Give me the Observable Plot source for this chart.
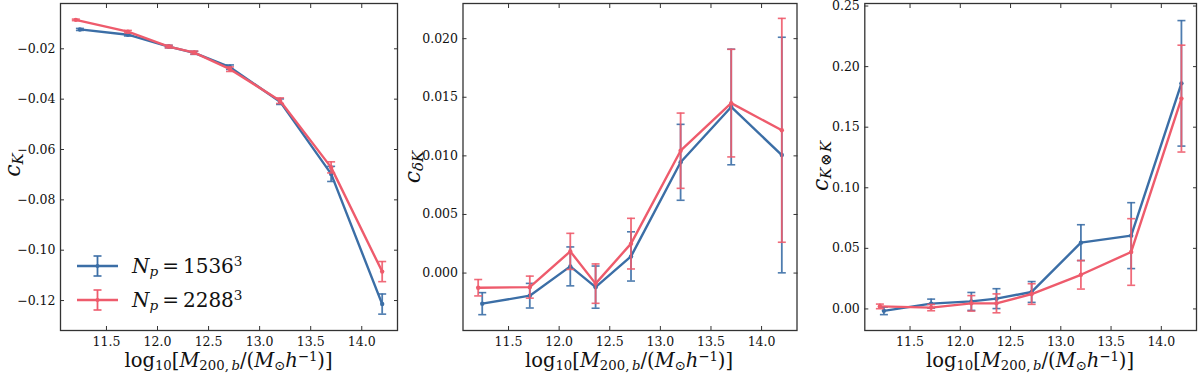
<!DOCTYPE html>
<html>
<head>
<meta charset="utf-8">
<script src="https://cdn.jsdelivr.net/npm/d3@7"></script>
<script src="https://cdn.jsdelivr.net/npm/@observablehq/plot@0.6"></script>
<style>
  html, body { margin: 0; padding: 0; background: #fff; }
  #wrap { position: relative; width: 1200px; height: 373px; overflow: hidden; font-family: "DejaVu Serif", serif; color: #111; }
  .panel { position: absolute; top: 0; }
  .xlab { position: absolute; top: 350.5px; transform: translateX(-50%); font-size: 19.5px; white-space: nowrap; line-height: 1; }
  .ylab { position: absolute; transform: translate(-50%, -50%) rotate(-90deg); font-size: 22px; white-space: nowrap; line-height: 1; }
  sub, sup { font-size: 0.68em; line-height: 0; }
  sub { vertical-align: -0.22em; }
  .xlab sup { vertical-align: 0.45em; }
  sup { vertical-align: 0.55em; }
  .leg { position: absolute; display: flex; align-items: center; font-size: 20px; white-space: nowrap; line-height: 1; }
  .leg svg { margin-right: 14px; }
</style>
</head>
<body>
<div id="wrap"></div>
<script>
// ---- data ----
const xBlue = [11.24, 11.71, 12.11, 12.36, 12.71, 13.20, 13.70, 14.20];
const xRed  = [11.20, 11.71, 12.11, 12.36, 12.71, 13.20, 13.70, 14.20];

const cK_blue     = [-0.0123, -0.0144, -0.0191, -0.0216, -0.0273, -0.0410, -0.0697, -0.1214];
const cK_blue_err = [0.0004, 0.0005, 0.0005, 0.0006, 0.0009, 0.0011, 0.0030, 0.0040];
const cK_red      = [-0.0085, -0.0132, -0.0191, -0.0215, -0.0281, -0.0406, -0.0671, -0.1085];
const cK_red_err  = [0.0003, 0.0005, 0.0005, 0.0006, 0.0009, 0.0011, 0.0022, 0.0040];

const cdK_blue     = [-0.00261, -0.00193, 0.00057, -0.00120, 0.00142, 0.00945, 0.01417, 0.01007];
const cdK_blue_err = [0.00094, 0.00105, 0.00166, 0.00180, 0.00210, 0.00324, 0.00493, 0.01005];
const cdK_red      = [-0.00125, -0.00120, 0.00185, -0.00090, 0.00251, 0.01044, 0.01450, 0.01218];
const cdK_red_err  = [0.00070, 0.00094, 0.00154, 0.00168, 0.00216, 0.00321, 0.00459, 0.00955];

const cKK_blue     = [-0.0016, 0.0044, 0.0062, 0.0085, 0.0140, 0.0547, 0.0605, 0.1862];
const cKK_blue_err = [0.0031, 0.0037, 0.0074, 0.0082, 0.0086, 0.0148, 0.0272, 0.0518];
const cKK_red      = [0.0021, 0.0011, 0.0046, 0.0046, 0.0123, 0.0282, 0.0470, 0.1736];
const cKK_red_err  = [0.0019, 0.0026, 0.0064, 0.0078, 0.0085, 0.0118, 0.0275, 0.0441];

const xTicks = [11.5, 12.0, 12.5, 13.0, 13.5, 14.0];
const yTicks1 = [-0.12, -0.10, -0.08, -0.06, -0.04, -0.02];
const yTicks2 = [0.000, 0.005, 0.010, 0.015, 0.020];
const yTicks3 = [0.00, 0.05, 0.10, 0.15, 0.20, 0.25];

const legendLabels = ["1536", "2288"];
const BLUE = "#3b6ea6";
const RED = "#ee5b6c";

// ---- helpers ----
const capSymbol = {
  draw(context, size) {
    const r = Math.sqrt(size / Math.PI);
    context.moveTo(-r, 0);
    context.lineTo(r, 0);
  }
};

function rows(xs, ys, es) {
  return xs.map((x, i) => ({x, y: ys[i], e: es[i]}));
}

function seriesMarks(data, color) {
  return [
    Plot.ruleX(data, {x: "x", y1: d => d.y - d.e, y2: d => d.y + d.e, stroke: color, strokeWidth: 1.8, strokeOpacity: 0.9}),
    Plot.dot(data, {x: "x", y: d => d.y + d.e, symbol: capSymbol, r: 4, stroke: color, strokeWidth: 1.6, strokeOpacity: 0.9}),
    Plot.dot(data, {x: "x", y: d => d.y - d.e, symbol: capSymbol, r: 4, stroke: color, strokeWidth: 1.6, strokeOpacity: 0.9}),
    Plot.line(data, {x: "x", y: "y", stroke: color, strokeWidth: 2.4}),
    Plot.dot(data, {x: "x", y: "y", r: 2.2, fill: color})
  ];
}

function panel({left, mL, mR, blue, red, yDomain, yTicks, yFmt}) {
  const p = Plot.plot({
    width: 400, height: 373,
    marginLeft: mL, marginRight: mR, marginTop: 3, marginBottom: 43,
    x: {domain: [11.05, 14.35]},
    y: {domain: yDomain},
    style: {fontFamily: "DejaVu Serif", fontSize: "12.5px", color: "#111", background: "transparent", overflow: "visible"},
    marks: [
      ...seriesMarks(blue, BLUE),
      ...seriesMarks(red, RED),
      Plot.frame({stroke: "#333", strokeWidth: 1.3}),
      Plot.axisX({ticks: xTicks, tickFormat: d3.format(".1f"), tickSize: -4, tickPadding: 10.5, label: null, stroke: "#333"}),
      Plot.axisX({anchor: "top", ticks: xTicks, tickFormat: () => "", tickSize: -4, label: null, stroke: "#333"}),
      Plot.axisY({ticks: yTicks, tickFormat: d3.format(yFmt), tickSize: -4, tickPadding: 9, label: null, stroke: "#333"}),
      Plot.axisY({anchor: "right", ticks: yTicks, tickFormat: () => "", tickSize: -4, label: null, stroke: "#333"})
    ]
  });
  p.classList.add("panel");
  p.style.left = left + "px";
  return p;
}

const wrap = document.getElementById("wrap");

wrap.appendChild(panel({left: 0, mL: 60, mR: 3,
  blue: rows(xBlue, cK_blue, cK_blue_err), red: rows(xRed, cK_red, cK_red_err),
  yDomain: [-0.1319, -0.002], yTicks: yTicks1, yFmt: ".2f"}));
wrap.appendChild(panel({left: 400, mL: 62.5, mR: 3.5,
  blue: rows(xBlue, cdK_blue, cdK_blue_err), red: rows(xRed, cdK_red, cdK_red_err),
  yDomain: [-0.0049, 0.0230], yTicks: yTicks2, yFmt: ".3f"}));
wrap.appendChild(panel({left: 800, mL: 64.3, mR: 4,
  blue: rows(xBlue, cKK_blue, cKK_blue_err), red: rows(xRed, cKK_red, cKK_red_err),
  yDomain: [-0.0178, 0.2521], yTicks: yTicks3, yFmt: ".2f"}));

// axis labels
const xLabelHTML = 'log<sub>10</sub>[<i>M</i><sub>200,&#8201;<i>b</i></sub>/(<i>M</i><sub>&#8857;</sub><i>h</i><sup>&minus;1</sup>)]';
[228.5, 629, 1030].forEach(cx => {
  const d = document.createElement("div");
  d.className = "xlab";
  d.style.left = cx + "px";
  d.innerHTML = xLabelHTML;
  wrap.appendChild(d);
});

const yLabels = [
  {x: 13, y: 165, html: '<i>c</i><sub><i>K</i></sub>'},
  {x: 413, y: 167, html: '<i>c</i><sub><i>&delta;K</i></sub>'},
  {x: 821, y: 166, html: '<i>c</i><sub><i>K</i>&#8202;&#8855;&#8202;<i>K</i></sub>'}
];
yLabels.forEach(l => {
  const d = document.createElement("div");
  d.className = "ylab";
  d.style.left = l.x + "px";
  d.style.top = l.y + "px";
  d.innerHTML = l.html;
  wrap.appendChild(d);
});

// legend
[[BLUE, legendLabels[0], 253], [RED, legendLabels[1], 287]].forEach(([c, lab, top]) => {
  const d = document.createElement("div");
  d.className = "leg";
  d.style.left = "77px";
  d.style.top = top + "px";
  d.innerHTML = `<svg width="41" height="26" viewBox="0 0 41 26">
    <line x1="0" y1="13" x2="41" y2="13" stroke="${c}" stroke-width="2.4"/>
    <line x1="20.5" y1="3" x2="20.5" y2="23" stroke="${c}" stroke-width="1.8"/>
    <line x1="16.5" y1="3" x2="24.5" y2="3" stroke="${c}" stroke-width="1.6"/>
    <line x1="16.5" y1="23" x2="24.5" y2="23" stroke="${c}" stroke-width="1.6"/>
    <circle cx="20.5" cy="13" r="2" fill="${c}"/>
  </svg><span><i>N</i><sub><i>p</i></sub>&#8201;=&#8201;${lab}<sup>3</sup></span>`;
  wrap.appendChild(d);
});
</script>
</body>
</html>
